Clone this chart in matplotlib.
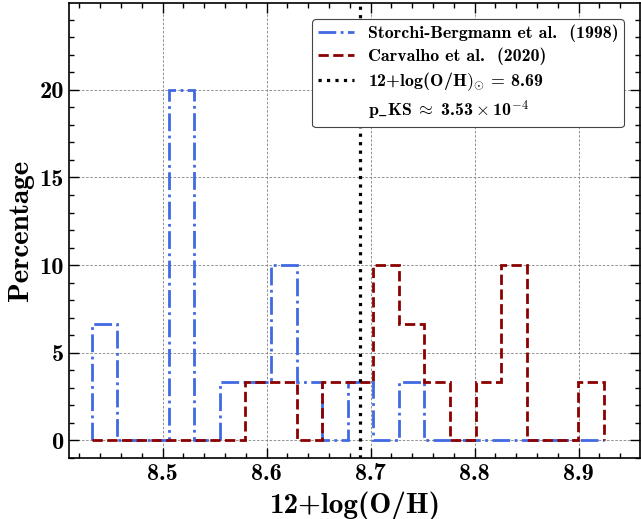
import numpy as np
import matplotlib
matplotlib.use('Agg')
import matplotlib.pyplot as plt
from matplotlib.lines import Line2D
from matplotlib.ticker import MultipleLocator

plt.rcParams['font.family'] = ['cmb10', 'DejaVu Serif']
plt.rcParams['mathtext.fontset'] = 'cm'
plt.rcParams['axes.unicode_minus'] = False

# shared histogram bins (20 bins over the combined range)
bin_lo, bin_hi, n_bins = 8.432, 8.924, 20
edges = np.linspace(bin_lo, bin_hi, n_bins + 1)

# percentages per bin
storchi = [6.67, 0, 0, 20, 0, 3.33, 3.33, 10, 3.33, 0,
           3.33, 0, 3.33, 0, 0, 0, 0, 0, 0, 0]
carvalho = [0, 0, 0, 0, 0, 0, 3.33, 3.33, 0, 3.33,
            3.33, 10, 6.67, 3.33, 0, 3.33, 10, 0, 0, 3.33]
solar = 8.69

fig = plt.figure(figsize=(6.41, 5.19), dpi=100)
ax = fig.add_axes([0.1076, 0.1175, 0.8908, 0.8767])

ax.grid(True, which='major', color='gray', ls=(0, (3, 2)), lw=0.6, zorder=0)
ax.stairs(storchi, edges, baseline=0, color='royalblue', ls='-.', lw=2.0,
          label='Storchi-Bergmann et al.  (1998)', zorder=2)
ax.stairs(carvalho, edges, baseline=0, color='darkred', ls='--', lw=2.0,
          label='Carvalho et al.  (2020)', zorder=3)
ax.axvline(solar, color='black', ls=':', lw=2.3, zorder=4,
           label=r'12+log(O/H$\mathbf{)}_{\odot}$ = 8.69')

handles, labels = ax.get_legend_handles_labels()
handles.append(Line2D([], [], color='none'))
labels.append(r'p$\_$KS$\;\approx\;$3.53$\:\times\:$10$^{-4}$')
leg = ax.legend(handles, labels, loc='upper right', fontsize=12.9,
                borderaxespad=0.9, framealpha=1, edgecolor='#444444',
                fancybox=True, handlelength=2.0, labelspacing=0.3,
                borderpad=0.3)
leg.get_frame().set_linewidth(0.8)

ax.set_xlim(8.41, 8.959)
ax.set_ylim(-1.0, 24.95)
ax.xaxis.set_major_locator(MultipleLocator(0.1))
ax.xaxis.set_minor_locator(MultipleLocator(0.02))
ax.yaxis.set_major_locator(MultipleLocator(5))
ax.yaxis.set_minor_locator(MultipleLocator(1))
ax.tick_params(which='both', direction='in', top=True, right=True,
               labelsize=17.5, width=1.0)
ax.tick_params(which='major', length=7)
ax.tick_params(which='minor', length=3.5)
for s in ax.spines.values():
    s.set_linewidth(1.2)

xl = ax.set_xlabel('12+log(O/H)', fontsize=18.5, labelpad=4.5)
yl = ax.set_ylabel('Percentage', fontsize=18.5, labelpad=4)

# scale the axis labels to the widths seen in the reference
fig.canvas.draw()
r = fig.canvas.get_renderer()
xw = xl.get_window_extent(r).width
yh = yl.get_window_extent(r).height
xl.set_fontsize(18.5 * 171 / xw)
yl.set_fontsize(18.5 * 142 / yh)

fig.savefig('out.png', dpi=100)
